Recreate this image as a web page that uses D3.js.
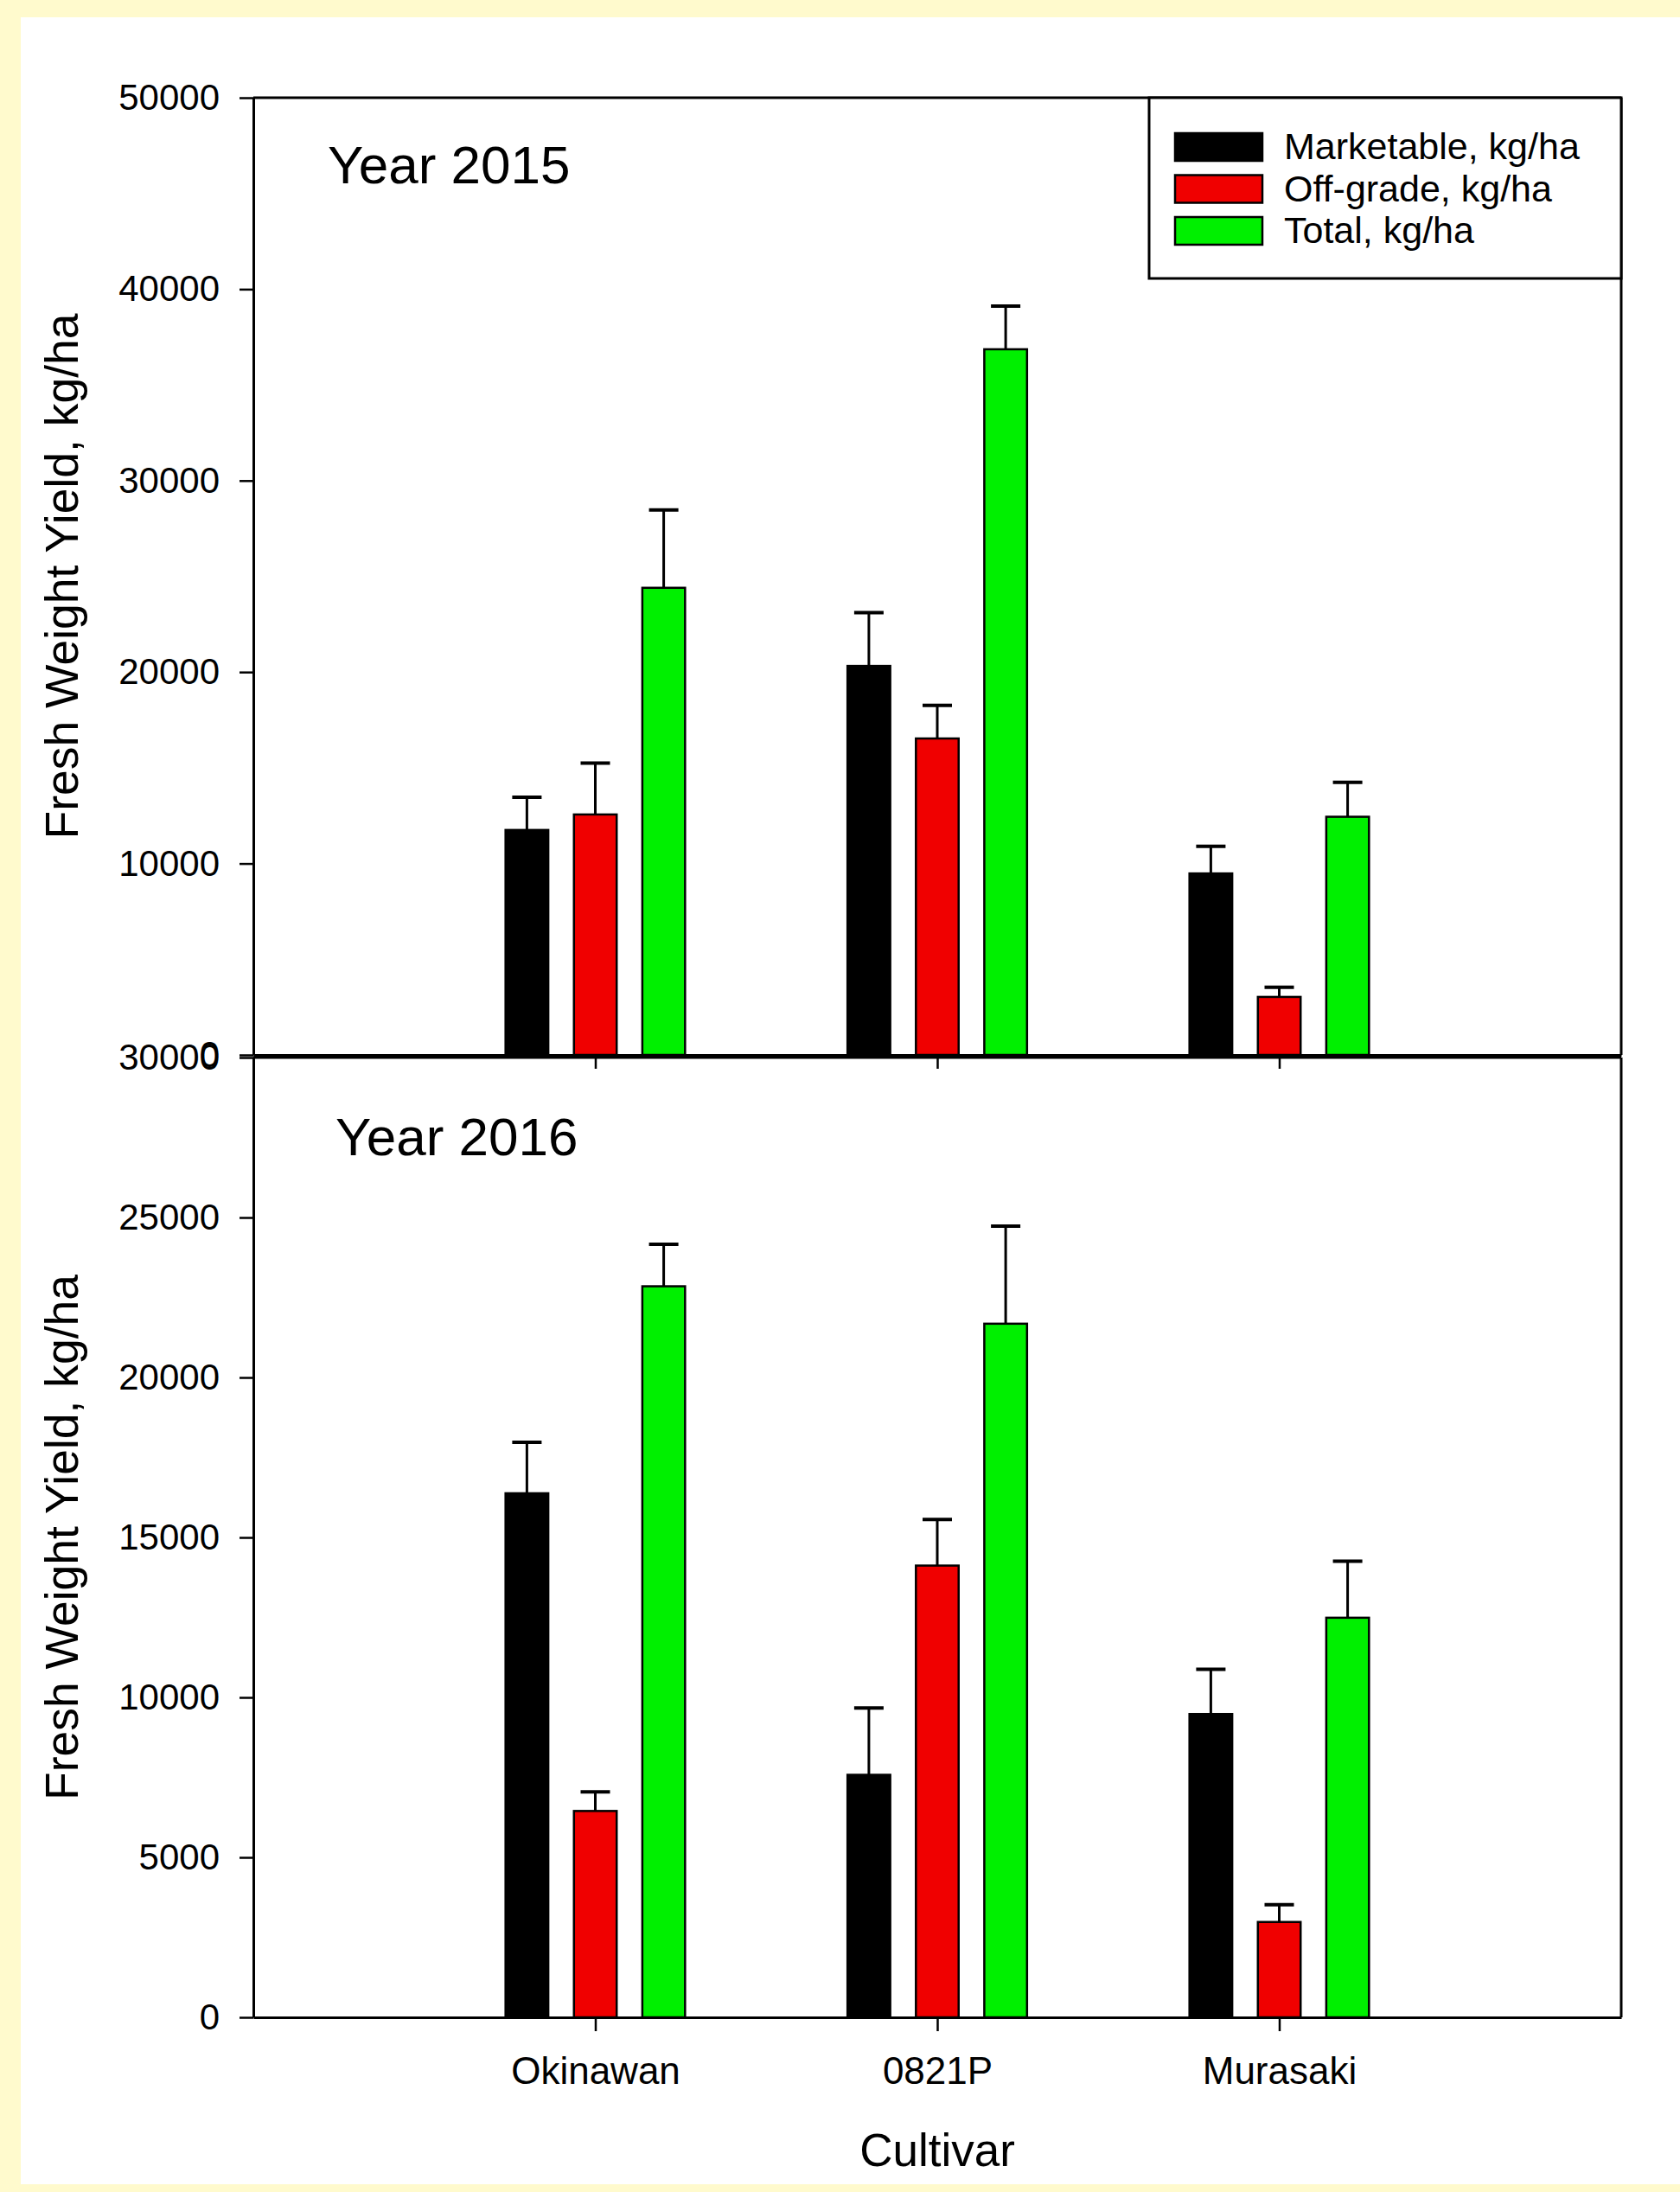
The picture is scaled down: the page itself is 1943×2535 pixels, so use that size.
<!DOCTYPE html>
<html>
<head>
<meta charset="utf-8">
<script src="https://cdn.jsdelivr.net/npm/d3@7"></script>
<style>
    body { margin: 0; background: #fffacd; }
    svg { display: block; font-family: "Liberation Sans", Arial, sans-serif; }
</style>
</head>
<body>
<svg id="chart"></svg>
<script>
const cultivars = ["Okinawan", "0821P", "Murasaki"];
const seriesNames = ["Marketable, kg/ha", "Off-grade, kg/ha", "Total, kg/ha"];

// year 2015 means and standard errors (kg/ha)
const marketable2015 = [11750, 20320, 9480];
const marketableSE2015 = [1710, 2780, 1420];
const offgrade2015 = [12560, 16530, 3030];
const offgradeSE2015 = [2680, 1730, 500];
const total2015 = [24400, 36860, 12440];
const totalSE2015 = [4070, 2260, 1800];

// year 2016
const marketable2016 = [16380, 7580, 9480];
const marketableSE2016 = [1590, 2090, 1400];
const offgrade2016 = [6450, 14120, 2980];
const offgradeSE2016 = [600, 1440, 540];
const total2016 = [22850, 21680, 12490];
const totalSE2016 = [1310, 3050, 1770];

const ticks2015 = [0, 10000, 20000, 30000, 40000, 50000];
const ticks2016 = [0, 5000, 10000, 15000, 20000, 25000, 30000];

const colors = ["#000000", "#f00000", "#00f000"];

const width = 1943, height = 2535;
const plotLeft = 293, plotRight = 1875;

const svg = d3.select("#chart").attr("width", width).attr("height", height);

svg.append("rect").attr("width", width).attr("height", height).attr("fill", "#fffacd");
svg.append("rect").attr("x", 24).attr("y", 20).attr("width", width - 24).attr("height", 2506).attr("fill", "#fff");

const x = d3.scaleLinear().domain([0, cultivars.length + 1]).range([plotLeft, plotRight]);
const barWidth = x(0.125) - x(0);
const offsets = [-0.2, 0, 0.2];

class YieldPanel {
    constructor(svg, top, bottom, maxY, ticks) {
        this.svg = svg;
        this.top = top;
        this.bottom = bottom;
        this.y = d3.scaleLinear().domain([0, maxY]).range([bottom, top]);
        this.ticks = ticks;
    }

    drawAxes(showLabels) {
        const yAxis = this.svg.append("g")
            .attr("transform", `translate(${plotLeft},0)`)
            .call(d3.axisLeft(this.y).tickValues(this.ticks).tickSize(16).tickPadding(23)
                .tickSizeOuter(0).tickFormat(d3.format("d")));

        const xAxis = this.svg.append("g")
            .attr("transform", `translate(0,${this.bottom})`)
            .call(d3.axisBottom(x).tickValues(cultivars.map((c, i) => i + 1)).tickSize(16)
                .tickPadding(30).tickSizeOuter(0)
                .tickFormat(i => showLabels ? cultivars[i - 1] : ""));

        [yAxis, xAxis].forEach(a => {
            a.attr("font-family", null).attr("font-size", null);
            a.select(".domain").attr("stroke", "#000").attr("stroke-width", 3);
            a.selectAll(".tick line").attr("stroke", "#000").attr("stroke-width", 2.5);
            a.selectAll(".tick text").attr("fill", "#000");
        });
        yAxis.selectAll(".tick text").attr("font-size", 42);
        xAxis.selectAll(".tick text").attr("font-size", 44);

        // top and right edges of the frame
        this.svg.append("line")
            .attr("x1", plotRight).attr("x2", plotRight)
            .attr("y1", this.top).attr("y2", this.bottom)
            .attr("stroke", "#000").attr("stroke-width", 3);
        this.svg.append("line")
            .attr("x1", plotLeft).attr("x2", plotRight)
            .attr("y1", this.top).attr("y2", this.top)
            .attr("stroke", "#000").attr("stroke-width", 3);

        this.svg.append("text")
            .attr("transform", `translate(90,${(this.top + this.bottom) / 2}) rotate(-90)`)
            .attr("text-anchor", "middle")
            .attr("font-size", 53)
            .attr("textLength", 608)
            .attr("lengthAdjust", "spacingAndGlyphs")
            .text("Fresh Weight Yield, kg/ha");
    }

    drawBars(means, errors) {
        means.forEach((vals, s) => {
            const g = this.svg.append("g");
            const data = vals.map((v, i) => ({ v, se: errors[s][i], cx: x(i + 1 + offsets[s]) }));

            g.selectAll("rect").data(data).enter().append("rect")
                .attr("x", d => d.cx - barWidth / 2)
                .attr("y", d => this.y(d.v))
                .attr("width", barWidth)
                .attr("height", d => this.bottom - this.y(d.v))
                .attr("fill", colors[s])
                .attr("stroke", "#000")
                .attr("stroke-width", 2.5);

            g.selectAll(".err").data(data).enter().append("line")
                .attr("class", "err")
                .attr("x1", d => d.cx).attr("x2", d => d.cx)
                .attr("y1", d => this.y(d.v)).attr("y2", d => this.y(d.v + d.se))
                .attr("stroke", "#000").attr("stroke-width", 3);

            g.selectAll(".cap").data(data).enter().append("line")
                .attr("class", "cap")
                .attr("x1", d => d.cx - 17).attr("x2", d => d.cx + 17)
                .attr("y1", d => this.y(d.v + d.se)).attr("y2", d => this.y(d.v + d.se))
                .attr("stroke", "#000").attr("stroke-width", 4);
        });
    }

    title(text, tx, ty) {
        this.svg.append("text").attr("x", tx).attr("y", ty)
            .attr("font-size", 62).text(text);
    }
}

const panel2015 = new YieldPanel(svg, 113, 1220, 50000, ticks2015);
const panel2016 = new YieldPanel(svg, 1223, 2333, 30000, ticks2016);

panel2015.drawBars([marketable2015, offgrade2015, total2015],
    [marketableSE2015, offgradeSE2015, totalSE2015]);
panel2016.drawBars([marketable2016, offgrade2016, total2016],
    [marketableSE2016, offgradeSE2016, totalSE2016]);

panel2016.drawAxes(true);
panel2015.drawAxes(false);

panel2015.title("Year 2015", 379, 212);
panel2016.title("Year 2016", 388, 1336);

// legend
const legend = svg.append("g");
legend.append("rect")
    .attr("x", 1329).attr("y", 113).attr("width", plotRight - 1329).attr("height", 209)
    .attr("fill", "#fff").attr("stroke", "#000").attr("stroke-width", 3);

seriesNames.forEach((name, i) => {
    legend.append("rect")
        .attr("x", 1359).attr("y", 154 + i * 48.5)
        .attr("width", 101).attr("height", 32)
        .attr("fill", colors[i]).attr("stroke", "#000").attr("stroke-width", 2.5);
    legend.append("text")
        .attr("x", 1485).attr("y", 184 + i * 48.5)
        .attr("font-size", 43).text(name);
});

svg.append("text")
    .attr("x", (plotLeft + plotRight) / 2).attr("y", 2505)
    .attr("text-anchor", "middle")
    .attr("font-size", 53)
    .text("Cultivar");
</script>
</body>
</html>
